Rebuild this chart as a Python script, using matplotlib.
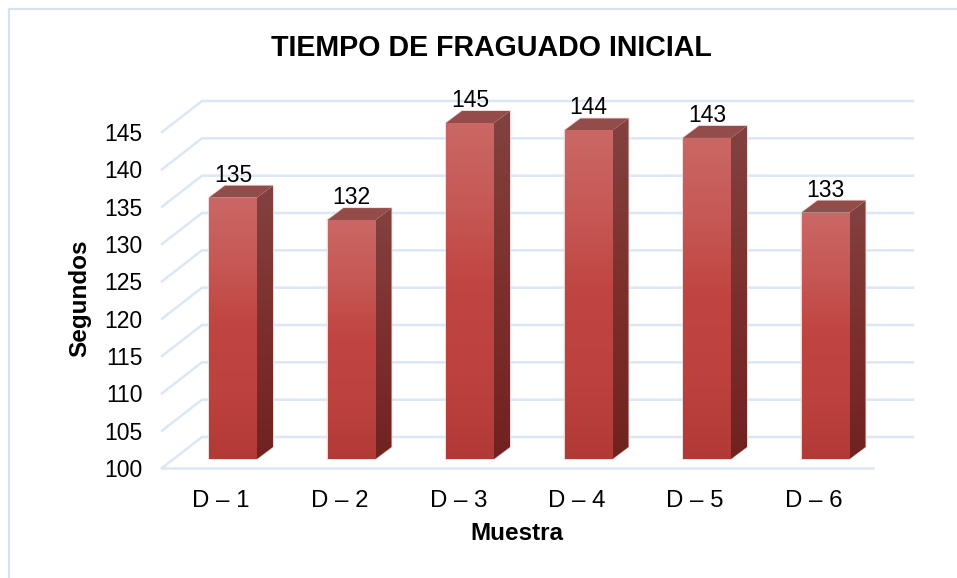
import numpy as np
import matplotlib
matplotlib.use("Agg")
import matplotlib.pyplot as plt
from matplotlib.colors import LinearSegmentedColormap
from matplotlib.patches import Polygon
from matplotlib.lines import Line2D

categories = ["D – 1", "D – 2", "D – 3", "D – 4", "D – 5", "D – 6"]
values = [135, 132, 145, 144, 143, 133]
y_ticks = [100, 105, 110, 115, 120, 125, 130, 135, 140, 145]

plt.rcParams["font.family"] = ["Liberation Sans", "DejaVu Sans"]
W, H = 957, 578
fig = plt.figure(figsize=(W / 100, H / 100), dpi=100, facecolor="white")
ax = fig.add_axes([162 / W, (H - 468) / H, 711 / W, 336 / H])
ax.set_facecolor("none")

PX_X = 6 / 711.0      # data units per pixel, x
PX_Y = 45 / 336.0     # data units per pixel, y
GRID = "#dce7f6"
x = np.arange(len(categories))
x0, x1 = -0.5, 5.5

def depth(px_x, px_y):
    return px_x * PX_X, px_y * PX_Y

# walls: gridlines on back wall + diagonals on side, floor front line
bx, by = depth(40, 31)
for t in y_ticks:
    ax.plot([x0, x0 + bx, x1 + bx], [t, t + by, t + by], color=GRID, lw=1.8,
            clip_on=False, zorder=1, solid_joinstyle="miter")
ax.plot([x0, x1], [100, 100], color=GRID, lw=1.8, clip_on=False, zorder=1)

front_cmap = LinearSegmentedColormap.from_list(
    "f", [(0, "#ca6865"), (0.25, "#c65855"), (0.5, "#c0443f"), (0.75, "#bd423e"), (1, "#b23a36")])
side_cmap = LinearSegmentedColormap.from_list(
    "s", [(0, "#824240"), (0.5, "#7c302d"), (1, "#702220")])
grad = np.linspace(0, 1, 256).reshape(-1, 1)

def fill(poly_pts, cmap, zorder):
    poly = Polygon(poly_pts, closed=True, facecolor="none", edgecolor="none", transform=ax.transData)
    ax.add_patch(poly)
    pts = np.array(poly_pts)
    im = ax.imshow(grad, cmap=cmap, aspect="auto", origin="upper", zorder=zorder,
                   extent=[pts[:, 0].min(), pts[:, 0].max(), pts[:, 1].min(), pts[:, 1].max()])
    im.set_clip_path(poly)
    im.set_clip_box(fig.bbox)

bar_w = 48 * PX_X
ox, oy = depth(11.75, 9)      # bar front plane relative to chart front
dx, dy = depth(16, 12)        # bar depth
for xi, v in zip(x, values):
    l, r = xi + ox - bar_w / 2, xi + ox + bar_w / 2
    b, t = 100 + oy, v + oy
    # soft pale halo
    ax.add_patch(Polygon([(l, b), (r, b), (r + dx, b + dy), (r + dx, t + dy), (l + dx, t + dy), (l, t)],
                         closed=True, facecolor="none", edgecolor="#f0d6d5", lw=1.2,
                         clip_on=False, zorder=2))
    fill([(r, b), (r + dx, b + dy), (r + dx, t + dy), (r, t)], side_cmap, 3)
    ax.add_patch(Polygon([(l, t), (r, t), (r + dx, t + dy), (l + dx, t + dy)], closed=True,
                         facecolor="#934c49", edgecolor="none", clip_on=False, zorder=3))
    fill([(l, b), (r, b), (r, t), (l, t)], front_cmap, 4)
    ax.text(xi + ox, t + dy + 4 * PX_Y, str(v), ha="center", va="baseline",
            fontsize=16.5, color="black", zorder=6, clip_on=False)

ax.set_xlim(x0, x1)
ax.set_ylim(100, 145)
ax.set_xticks(x, categories)
ax.set_yticks(y_ticks)
ax.tick_params(axis="y", length=0, labelsize=16.5, colors="black", pad=14)
ax.tick_params(axis="x", length=0, labelsize=17.3, colors="black", pad=15.5)
for s in ax.spines.values():
    s.set_visible(False)

fig.text(491 / W, 1 - 48 / H, "TIEMPO DE FRAGUADO INICIAL", ha="center", va="center",
         fontsize=20.6, fontweight="bold")
fig.text(80 / W, 1 - 298 / H, "Segundos", rotation=90, ha="center", va="center",
         fontsize=17.5, fontweight="bold")
fig.text(517 / W, 1 - 534 / H, "Muestra", ha="center", va="center",
         fontsize=17.5, fontweight="bold")

# outer chart border (left and top)
fig.add_artist(Line2D([8.5 / W, 8.5 / W, 1], [0, 1 - 8.5 / H, 1 - 8.5 / H],
                      color="#d6e2f2", lw=1.6, transform=fig.transFigure))

fig.savefig("out.png", dpi=100)
